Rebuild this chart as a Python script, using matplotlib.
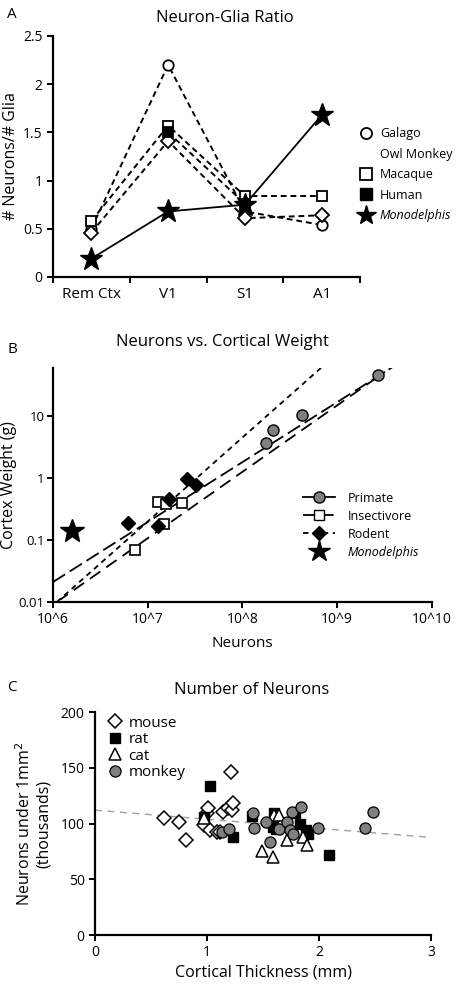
import numpy as np
import matplotlib.pyplot as plt
from matplotlib.lines import Line2D

plt.rcParams['font.family'] = ['Open Sans', 'DejaVu Sans']

# ---- Panel A: neuron-glia ratio ----
regions = ['Rem Ctx', 'V1', 'S1', 'A1']
galago = [0.50, 2.20, 0.68, 0.54]
owl_monkey = [0.46, 1.41, 0.61, 0.64]
macaque = [0.58, 1.57, 0.84, 0.84]
human = [np.nan, 1.50, 0.76, np.nan]
monodelphis_a = [0.19, 0.68, 0.75, 1.68]

# ---- Panel B: neurons vs cortical weight ----
primate_n = [1.78e8, 2.1e8, 4.3e8, 2.7e9]
primate_w = [3.7, 5.9, 10.4, 46]
insect_n = [7.4e6, 1.3e7, 1.55e7, 1.5e7, 2.3e7]
insect_w = [0.069, 0.41, 0.38, 0.18, 0.40]
rodent_n = [6.2e6, 1.3e7, 1.7e7, 2.6e7, 3.2e7]
rodent_w = [0.19, 0.17, 0.46, 0.96, 0.77]
mono_n = [1.6e6]
mono_w = [0.14]
primate_fit_n = [1.0e6, 4.1e9]
primate_fit_w = [0.021, 66]
insect_fit_n = [1.2e6, 3.2e9]
insect_fit_w = [0.011, 52]
rodent_fit_n = [1.1e6, 6.9e8]
rodent_fit_w = [0.010, 62]

# ---- Panel C: number of neurons under 1 mm2 ----
mouse_x = [0.62, 0.75, 0.81, 0.97, 1.0, 1.01, 1.03, 1.09, 1.12, 1.14, 1.19, 1.21, 1.22, 1.23]
mouse_y = [105, 101, 85, 99, 109, 114, 94, 92, 92, 110, 114, 146, 112, 118]
rat_x = [0.97, 1.03, 1.23, 1.40, 1.59, 1.60, 1.62, 1.79, 1.83, 1.88, 1.90, 2.09]
rat_y = [106, 134, 88, 107, 97, 109, 95, 109, 100, 94, 91, 72]
cat_x = [0.97, 1.49, 1.59, 1.60, 1.64, 1.71, 1.86, 1.89]
cat_y = [105, 75, 70, 108, 108, 85, 88, 81]
monkey_x = [1.13, 1.20, 1.41, 1.42, 1.53, 1.56, 1.64, 1.71, 1.74, 1.76, 1.77, 1.84, 1.99, 2.41, 2.48]
monkey_y = [92, 95, 109, 96, 101, 83, 95, 101, 94, 110, 91, 115, 96, 96, 110]
trend_x = [0, 3]
trend_y = [112, 87.5]

gray = '#808080'

fig = plt.figure(figsize=(4.6, 9.91), dpi=100)


def style_axes(ax, minor_off=True):
    ax.spines['top'].set_visible(False)
    ax.spines['right'].set_visible(False)
    ax.spines['left'].set_linewidth(1.6)
    ax.spines['bottom'].set_linewidth(1.6)
    ax.tick_params(direction='out', width=1.4, length=4, labelsize=10)
    if minor_off:
        ax.minorticks_off()


# Panel A
axA = fig.add_axes([0.115, 0.7205, 0.668, 0.2432])
xa = np.arange(len(regions))
kw = dict(color='black', lw=1.4, markersize=7.5, markeredgewidth=1.3)
axA.plot(xa, galago, ls=(0, (3, 2)), marker='o', mfc='white', **kw)
axA.plot(xa, owl_monkey, ls=(0, (3, 2)), marker='D', mfc='white', markersize=7,
         color='black', lw=1.4, markeredgewidth=1.3)
axA.plot(xa, macaque, ls=(0, (3, 2)), marker='s', mfc='white', **kw)
axA.plot(xa, human, ls=(0, (3, 2)), marker='s', mfc='black', **kw)
axA.plot(xa, monodelphis_a, ls='-', marker='*', mfc='black', color='black',
         lw=1.3, markersize=17)
axA.set_xlim(-0.5, 3.5)
axA.set_ylim(0, 2.5)
style_axes(axA, minor_off=False)
axA.set_xticks(xa)
axA.set_xticklabels(regions)
axA.tick_params(axis='x', which='major', length=0, labelsize=11, pad=7)
axA.set_xticks([-0.5, 0.5, 1.5, 2.5, 3.5], minor=True)
axA.tick_params(axis='x', which='minor', direction='out', length=4, width=1.4)
axA.set_yticks([0, 0.5, 1, 1.5, 2, 2.5])
axA.set_yticklabels(['0', '0.5', '1', '1.5', '2', '2.5'])
axA.yaxis.set_tick_params(which='minor', length=0)
axA.set_ylabel('# Neurons/# Glia', fontsize=11.5, labelpad=3)

hA = [Line2D([], [], ls='none', marker='o', mfc='white', mec='black', ms=8, mew=1.3),
      Line2D([], [], ls='none', marker='none'),
      Line2D([], [], ls='none', marker='s', mfc='white', mec='black', ms=8, mew=1.3),
      Line2D([], [], ls='none', marker='s', mfc='black', mec='black', ms=8),
      Line2D([], [], ls='none', marker='*', mfc='black', mec='black', ms=15)]
legA = fig.legend(hA, ['Galago', 'Owl Monkey', 'Macaque', 'Human', 'Monodelphis'],
                  loc='upper left', bbox_to_anchor=(0.755, 0.883), frameon=False,
                  fontsize=9, handlelength=1.2, handletextpad=0.5, labelspacing=0.6)
legA.get_texts()[4].set_style('italic')

# Panel B
axB = fig.add_axes([0.115, 0.3925, 0.824, 0.2362])
axB.plot(primate_fit_n, primate_fit_w, color='black', lw=1.3, ls=(0, (8, 3)))
axB.plot(insect_fit_n, insect_fit_w, color='black', lw=1.3, ls=(2, (7, 4)))
axB.plot(rodent_fit_n, rodent_fit_w, color='black', lw=1.3, ls=(0, (3, 2.5)))
axB.plot(primate_n, primate_w, ls='none', marker='o', mfc=gray, mec='black', ms=8, mew=1)
axB.plot(insect_n, insect_w, ls='none', marker='s', mfc='white', mec='black', ms=7, mew=1.2)
axB.plot(rodent_n, rodent_w, ls='none', marker='D', mfc='black', mec='black', ms=7)
axB.plot(mono_n, mono_w, ls='none', marker='*', mfc='black', mec='black', ms=18)
axB.set_xscale('log')
axB.set_yscale('log')
axB.set_xlim(1e6, 1e10)
axB.set_ylim(0.01, 60)
axB.set_xticks([1e6, 1e7, 1e8, 1e9, 1e10])
axB.set_xticklabels(['10^6', '10^7', '10^8', '10^9', '10^10'])
axB.set_yticks([0.01, 0.1, 1, 10])
axB.set_yticklabels(['0.01', '0.1', '1', '10'])
style_axes(axB)
axB.tick_params(axis='y', labelsize=9.5, pad=2)
axB.set_xlabel('Neurons', fontsize=11, labelpad=6)
axB.set_ylabel('Cortex Weight (g)', fontsize=11.5, labelpad=1)

hB = [Line2D([], [], color='black', lw=1.3, ls='-', marker='o', mfc=gray, mec='black', ms=8),
      Line2D([], [], color='black', lw=1.3, ls=(0, (7, 3)), marker='s', mfc='white', mec='black', ms=7),
      Line2D([], [], color='black', lw=1.3, ls=(0, (3, 2.5)), marker='D', mfc='black', ms=7),
      Line2D([], [], ls='none', marker='*', mfc='black', mec='black', ms=16)]
legB = axB.legend(hB, ['Primate', 'Insectivore', 'Rodent', 'Monodelphis'],
                  loc='upper left', bbox_to_anchor=(0.63, 0.52), frameon=False,
                  fontsize=9, handlelength=2.6, handletextpad=1.0, labelspacing=0.4)
legB.get_texts()[3].set_style('italic')

# Panel C
axC = fig.add_axes([0.2065, 0.0565, 0.7305, 0.225])
axC.plot(trend_x, trend_y, color='#a0a0a0', lw=1, ls=(0, (5, 4)))
axC.plot(mouse_x, mouse_y, ls='none', marker='D', mfc='white', mec='black', ms=7, mew=1.1, label='mouse')
axC.plot(rat_x, rat_y, ls='none', marker='s', mfc='black', mec='black', ms=7, label='rat')
axC.plot(cat_x, cat_y, ls='none', marker='^', mfc='white', mec='black', ms=8, mew=1.1, label='cat')
axC.plot(monkey_x, monkey_y, ls='none', marker='o', mfc=gray, mec='black', ms=8, mew=0.9, label='monkey')
axC.set_xlim(0, 3)
axC.set_ylim(0, 200)
axC.set_xticks([0, 1, 2, 3])
axC.set_yticks([0, 50, 100, 150, 200])
style_axes(axC)
axC.set_xlabel('Cortical Thickness (mm)', fontsize=11.5, labelpad=3)
axC.set_ylabel('Neurons under 1mm$^2$\n(thousands)', fontsize=11.5, labelpad=6)
axC.legend(loc='upper left', bbox_to_anchor=(0.0, 1.045), frameon=False, fontsize=11,
           handlelength=0.8, handletextpad=0.5, labelspacing=0.1)

# titles and panel letters
fig.text(0.489, 0.982, 'Neuron-Glia Ratio', ha='center', va='center', fontsize=12)
fig.text(0.483, 0.655, 'Neurons vs. Cortical Weight', ha='center', va='center', fontsize=12)
fig.text(0.548, 0.304, 'Number of Neurons', ha='center', va='center', fontsize=12)
fig.text(0.026, 0.985, 'A', ha='center', va='center', fontsize=11)
fig.text(0.026, 0.647, 'B', ha='center', va='center', fontsize=11)
fig.text(0.026, 0.306, 'C', ha='center', va='center', fontsize=11)

fig.savefig('out.png', dpi=100)
